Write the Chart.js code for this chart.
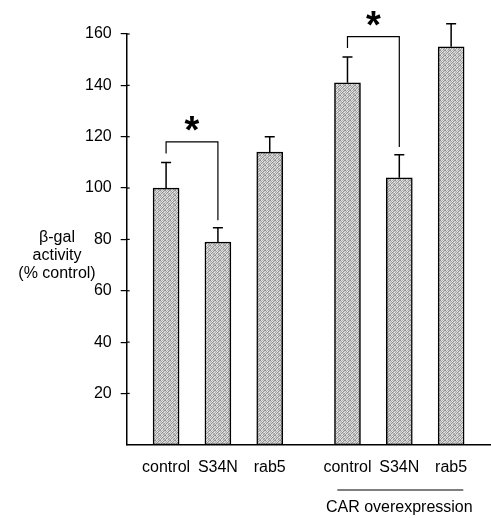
<!DOCTYPE html>
<html>
<head>
<meta charset="utf-8">
<script src="https://cdn.jsdelivr.net/npm/chart.js@4.4.0/dist/chart.umd.min.js"></script>
<style>
  body { margin: 0; background: #fff; }
  canvas { display: block; }
</style>
</head>
<body>
<canvas id="chart" width="491" height="518"></canvas>
<script>
let conditions = ['control', 'S34N', 'rab5'];
let groupNames = ['', 'CAR overexpression'];
let meanBasal = [100, 79, 114];
let errBasal = [10, 5.5, 6];
let meanCAR = [141, 104, 155];
let errCAR = [10, 9, 9];
let yTicks = [20, 40, 60, 80, 100, 120, 140, 160];
// significant pairs: group index, first bar, second bar
let sigGroup = [0, 1];
let sigA = [0, 0];
let sigB = [1, 1];

let means = [meanBasal, meanCAR];
let errs = [errBasal, errCAR];

// x position of a bar: groups are 3.5 units apart
function xOf(g, i) { return 1 + g * 3.5 + i; }

let points = [], labelAt = {};
means.forEach((arr, g) => {
  arr.forEach((v, i) => {
    points.push({ x: xOf(g, i), y: v });
    labelAt[xOf(g, i)] = conditions[i];
  });
});

// stipple fill like the print
function stipple() {
  let c = document.createElement('canvas');
  c.width = 5; c.height = 5;
  let cx = c.getContext('2d');
  let tones = ['#8c8c8c', '#e2e2e2', '#b4b4b4', '#d6d6d6', '#9a9a9a',
               '#d0d0d0', '#a4a4a4', '#ececec', '#909090', '#cccccc',
               '#b0b0b0', '#dadada', '#8e8e8e', '#c8c8c8', '#e6e6e6',
               '#e4e4e4', '#949494', '#cfcfcf', '#bababa', '#9e9e9e',
               '#a8a8a8', '#d4d4d4', '#e0e0e0', '#989898', '#c4c4c4'];
  tones.forEach((t, k) => { cx.fillStyle = t; cx.fillRect(k % 5, Math.floor(k / 5), 1, 1); });
  return cx.createPattern(c, 'repeat');
}

let font = '"Liberation Sans", Arial, sans-serif';

let extras = {
  id: 'extras',
  afterDatasetsDraw(chart) {
    let ctx = chart.ctx;
    let xs = chart.scales.x, ys = chart.scales.y;
    ctx.save();
    ctx.strokeStyle = '#000';
    ctx.fillStyle = '#000';

    // small tick stubs inside the axis
    ctx.lineWidth = 1.2;
    yTicks.forEach(v => {
      let py = ys.getPixelForValue(v);
      ctx.beginPath();
      ctx.moveTo(xs.left, py); ctx.lineTo(xs.left + 3, py);
      ctx.stroke();
    });

    // error bars (upper only)
    ctx.lineWidth = 1.5;
    means.forEach((arr, g) => {
      arr.forEach((v, i) => {
        let px = xs.getPixelForValue(xOf(g, i));
        let y0 = ys.getPixelForValue(v);
        let y1 = ys.getPixelForValue(v + errs[g][i]);
        ctx.beginPath();
        ctx.moveTo(px, y0); ctx.lineTo(px, y1);
        ctx.moveTo(px - 5, y1); ctx.lineTo(px + 5, y1);
        ctx.stroke();
      });
    });

    // significance brackets
    ctx.lineWidth = 1.2;
    sigGroup.forEach((g, k) => {
      let a = sigA[k], b = sigB[k];
      let topA = means[g][a] + errs[g][a];
      let topB = means[g][b] + errs[g][b];
      let top = Math.max(topA, topB) + 8;
      let xa = xs.getPixelForValue(xOf(g, a));
      let xb = xs.getPixelForValue(xOf(g, b));
      let yt = ys.getPixelForValue(top);
      ctx.beginPath();
      ctx.moveTo(xa, ys.getPixelForValue(topA + 3.5));
      ctx.lineTo(xa, yt);
      ctx.lineTo(xb, yt);
      ctx.lineTo(xb, ys.getPixelForValue(topB + 3));
      ctx.stroke();
      ctx.font = 'bold 38px ' + font;
      ctx.textAlign = 'center';
      ctx.textBaseline = 'middle';
      ctx.fillText('*', (xa + xb) / 2, yt - 9);
    });

    // y axis title
    ctx.font = '16px ' + font;
    ctx.textAlign = 'center';
    ctx.textBaseline = 'middle';
    ['\u03b2-gal', 'activity', '(% control)'].forEach((t, k) => {
      ctx.fillText(t, 57, 238 + k * 18);
    });

    // group caption
    groupNames.forEach((name, g) => {
      if (!name) return;
      let cxp = xs.getPixelForValue(xOf(g, 1));
      ctx.lineWidth = 1.2;
      ctx.beginPath();
      ctx.moveTo(cxp - 62, 490); ctx.lineTo(cxp + 64, 490);
      ctx.stroke();
      ctx.fillText(name, cxp, 508);
    });
    ctx.restore();
  }
};

new Chart(document.getElementById('chart').getContext('2d'), {
  type: 'bar',
  data: {
    datasets: [{
      data: points,
      backgroundColor: stipple(),
      borderColor: '#000',
      borderWidth: 1.5,
      borderSkipped: false,
      barThickness: 26
    }]
  },
  options: {
    responsive: false,
    animation: false,
    layout: { padding: { left: 76, right: 1, top: 34, bottom: 28 } },
    plugins: { legend: { display: false }, tooltip: { enabled: false } },
    scales: {
      x: {
        type: 'linear',
        offset: false,
        min: 0.24,
        max: 7.25,
        afterBuildTicks: s => { s.ticks = points.map(p => ({ value: p.x })); },
        grid: { display: false, drawTicks: false },
        border: { color: '#000', width: 1.5 },
        ticks: {
          padding: 13,
          color: '#000',
          font: { family: font, size: 16 },
          autoSkip: false,
          maxRotation: 0,
          callback: v => labelAt[v] || ''
        }
      },
      y: {
        min: 0,
        max: 160,
        afterBuildTicks: s => { s.ticks = yTicks.map(v => ({ value: v })); },
        grid: { drawOnChartArea: false, drawTicks: true, tickLength: 6, color: '#000', lineWidth: 1.2 },
        border: { color: '#000', width: 1.5 },
        ticks: {
          padding: 9,
          color: '#000',
          font: { family: font, size: 16 }
        }
      }
    }
  },
  plugins: [extras]
});
</script>
</body>
</html>
